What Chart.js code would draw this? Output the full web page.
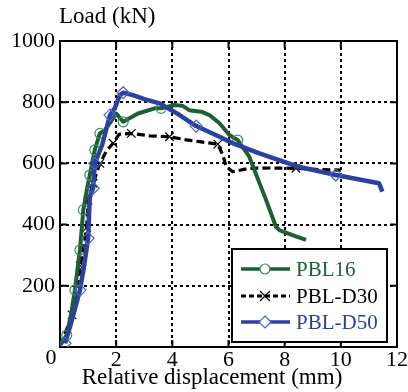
<!DOCTYPE html>
<html>
<head>
<meta charset="utf-8">
<script src="https://cdn.jsdelivr.net/npm/chart.js@4"></script>
<style>
  html, body { margin: 0; padding: 0; background: #fff; }
  #canvas { display: block; }
</style>
</head>
<body>
<canvas id="canvas" width="408" height="392"></canvas>
<script>
const seriesNames = ['PBL16', 'PBL-D30', 'PBL-D50'];

// PBL16 (mm, kN)
const pbl16X = [0, 0.24, 0.4, 0.53, 0.71, 0.83, 0.95, 1.06, 1.24, 1.42, 1.6, 1.89, 2.0, 2.25, 2.78, 3.37, 3.6, 4.08, 4.37, 4.6, 5.03, 5.32, 5.68, 6.03, 6.33, 6.74, 7.0, 7.34, 7.69, 7.81, 8.3, 8.76];
const pbl16Y = [5, 39, 110, 186, 317, 448, 510, 562, 644, 698, 709, 747, 763, 736, 763, 780, 780, 791, 788, 774, 769, 758, 731, 693, 676, 622, 560, 480, 393, 382, 365, 350];
const pbl16Marks = [1, 3, 4, 5, 7, 8, 9, 13, 16, 24];

// PBL-D30
const d30X = [0.02, 0.43, 0.62, 0.72, 0.95, 1.0, 1.18, 1.42, 1.65, 1.89, 2.1, 2.54, 3.2, 3.9, 4.5, 4.97, 5.62, 5.8, 5.92, 6.15, 6.74, 7.5, 8.4, 9.2, 10.0];
const d30Y = [6, 105, 180, 265, 390, 480, 535, 600, 640, 666, 695, 698, 690, 687, 677, 671, 663, 627, 589, 573, 584, 585, 584, 580, 578];
const d30Marks = [0, 1, 3, 4, 5, 6, 7, 9, 11, 13, 16, 22];

// PBL-D50
const d50X = [0.18, 0.4, 0.71, 0.85, 1.0, 1.06, 1.18, 1.24, 1.5, 1.78, 1.95, 2.13, 2.25, 2.6, 3.0, 3.55, 4.26, 4.85, 5.68, 6.15, 6.63, 7.1, 8.5, 9.82, 11.36, 11.48];
const d50Y = [12, 80, 186, 260, 355, 491, 519, 600, 660, 758, 780, 823, 831, 823, 810, 796, 758, 722, 687, 666, 649, 633, 589, 562, 535, 508];
const d50Marks = [0, 2, 4, 6, 7, 9, 12, 17, 23];

const xTicks = [0, 2, 4, 6, 8, 10, 12];
const yTicks = [0, 200, 400, 600, 800, 1000];

const GREEN = '#1d5e34';
const GREEN_MARK = '#3f8d5c';
const BLUE = '#2b41a0';
const BLUE_MARK = '#4a63c8';
const FONT = '"Liberation Serif", "Times New Roman", Times, serif';

function pts(xs, ys) {
  return xs.map((x, i) => ({ x: x, y: ys[i] }));
}
function markRadius(marks, r) {
  return c => marks.includes(c.dataIndex) ? r : 0;
}

const frame = {
  id: 'frame',
  beforeDatasetsDraw(chart) {
    const { ctx, chartArea: a, scales } = chart;
    ctx.save();
    ctx.strokeStyle = '#000';
    ctx.lineWidth = 2;
    ctx.setLineDash([]);
    ctx.strokeRect(a.left, a.top, a.right - a.left, a.bottom - a.top);
    const t = 7;
    ctx.beginPath();
    xTicks.slice(1, -1).forEach(v => {
      const px = scales.x.getPixelForValue(v);
      ctx.moveTo(px, a.top); ctx.lineTo(px, a.top + t);
      ctx.moveTo(px, a.bottom); ctx.lineTo(px, a.bottom - t);
    });
    yTicks.slice(1, -1).forEach(v => {
      const py = scales.y.getPixelForValue(v);
      ctx.moveTo(a.left, py); ctx.lineTo(a.left + t, py);
      ctx.moveTo(a.right, py); ctx.lineTo(a.right - t, py);
    });
    ctx.stroke();
    // origin label, set a little left of the corner as in the source figure
    ctx.fillStyle = '#000';
    ctx.font = '22px ' + FONT;
    ctx.textAlign = 'center';
    ctx.textBaseline = 'middle';
    ctx.fillText(String(xTicks[0]), a.left - 9, a.bottom + 11);
    ctx.restore();
  },
  afterDatasetsDraw(chart) {
    const { ctx } = chart;
    ctx.save();
    // legend box
    ctx.fillStyle = '#fff';
    ctx.fillRect(232, 249, 155, 93);
    ctx.strokeStyle = '#000';
    ctx.lineWidth = 2;
    ctx.strokeRect(232, 249, 155, 93);
    const rows = [
      { y: 269, color: GREEN, mark: GREEN_MARK, dash: [], w: 3.5, style: 'circle', text: seriesNames[0] },
      { y: 296, color: '#000', mark: '#000', dash: [5, 3], w: 3, style: 'x', text: seriesNames[1] },
      { y: 322, color: BLUE, mark: BLUE_MARK, dash: [], w: 3.5, style: 'diamond', text: seriesNames[2] }
    ];
    rows.forEach(r => {
      ctx.strokeStyle = r.color;
      ctx.lineWidth = r.w;
      ctx.setLineDash(r.dash);
      ctx.beginPath();
      ctx.moveTo(241, r.y); ctx.lineTo(290, r.y);
      ctx.stroke();
      ctx.setLineDash([]);
      ctx.lineWidth = 1.2;
      ctx.strokeStyle = r.mark;
      ctx.beginPath();
      if (r.style === 'circle') {
        ctx.fillStyle = '#fff';
        ctx.arc(265, r.y, 5, 0, Math.PI * 2);
        ctx.fill();
      } else if (r.style === 'diamond') {
        ctx.fillStyle = '#fff';
        ctx.moveTo(265, r.y - 6); ctx.lineTo(271, r.y); ctx.lineTo(265, r.y + 6); ctx.lineTo(259, r.y); ctx.closePath();
        ctx.fill();
      } else {
        ctx.moveTo(260, r.y - 5); ctx.lineTo(270, r.y + 5);
        ctx.moveTo(270, r.y - 5); ctx.lineTo(260, r.y + 5);
      }
      ctx.stroke();
      ctx.fillStyle = r.color;
      ctx.font = '21px ' + FONT;
      ctx.textAlign = 'left';
      ctx.textBaseline = 'middle';
      ctx.fillText(r.text, 296, r.y + 1);
    });
    // axis titles
    ctx.fillStyle = '#000';
    ctx.font = '23px ' + FONT;
    ctx.textBaseline = 'middle';
    ctx.textAlign = 'left';
    ctx.fillText('Load (kN)', 59, 17);
    ctx.textAlign = 'center';
    ctx.fillText('Relative displacement (mm)', 212, 378);
    ctx.restore();
  }
};

const ctx = document.getElementById('canvas').getContext('2d');

new Chart(ctx, {
  type: 'line',
  data: {
    datasets: [
      {
        label: seriesNames[0],
        data: pts(pbl16X, pbl16Y),
        borderColor: GREEN,
        borderWidth: 4,
        pointStyle: 'circle',
        pointRadius: markRadius(pbl16Marks, 5),
        pointBorderColor: GREEN_MARK,
        pointBorderWidth: 1.2,
        pointBackgroundColor: 'rgba(0,0,0,0)',
        order: 2
      },
      {
        label: seriesNames[1],
        data: pts(d30X, d30Y),
        borderColor: '#000',
        borderWidth: 3.2,
        borderDash: [8, 4],
        pointStyle: 'crossRot',
        pointRadius: markRadius(d30Marks, 6),
        pointBorderColor: '#000',
        pointBorderWidth: 1.2,
        pointBackgroundColor: 'rgba(0,0,0,0)',
        order: 3
      },
      {
        label: seriesNames[2],
        data: pts(d50X, d50Y),
        borderColor: BLUE,
        borderWidth: 4.5,
        pointStyle: 'rectRot',
        pointRadius: markRadius(d50Marks, 6),
        pointBorderColor: BLUE_MARK,
        pointBorderWidth: 1.2,
        pointBackgroundColor: 'rgba(0,0,0,0)',
        order: 1
      }
    ]
  },
  options: {
    responsive: false,
    animation: false,
    devicePixelRatio: 1,
    layout: { padding: { top: 41, right: 10, left: 0, bottom: 0 } },
    plugins: {
      legend: { display: false },
      tooltip: { enabled: false }
    },
    elements: { line: { tension: 0, borderJoinStyle: 'round', borderCapStyle: 'butt' } },
    scales: {
      x: {
        type: 'linear',
        min: 0,
        max: 12,
        afterFit: s => { s.height = 45; },
        afterBuildTicks: s => { s.ticks = xTicks.map(v => ({ value: v })); },
        ticks: {
          color: '#000', font: { family: FONT, size: 22 }, padding: 0, maxRotation: 0,
          callback: v => v === xTicks[0] ? '' : String(v)
        },
        grid: { color: '#000', lineWidth: 2, drawTicks: false },
        border: { display: false, dash: [3, 3] }
      },
      y: {
        min: 0,
        max: 1000,
        afterFit: s => { s.width = 60; },
        afterBuildTicks: s => { s.ticks = yTicks.map(v => ({ value: v })); },
        ticks: {
          color: '#000', font: { family: FONT, size: 22 }, padding: 5,
          callback: v => v === 0 ? '' : String(v)
        },
        grid: { color: '#000', lineWidth: 2, drawTicks: false },
        border: { display: false, dash: [3, 3] }
      }
    }
  },
  plugins: [frame]
});
</script>
</body>
</html>
